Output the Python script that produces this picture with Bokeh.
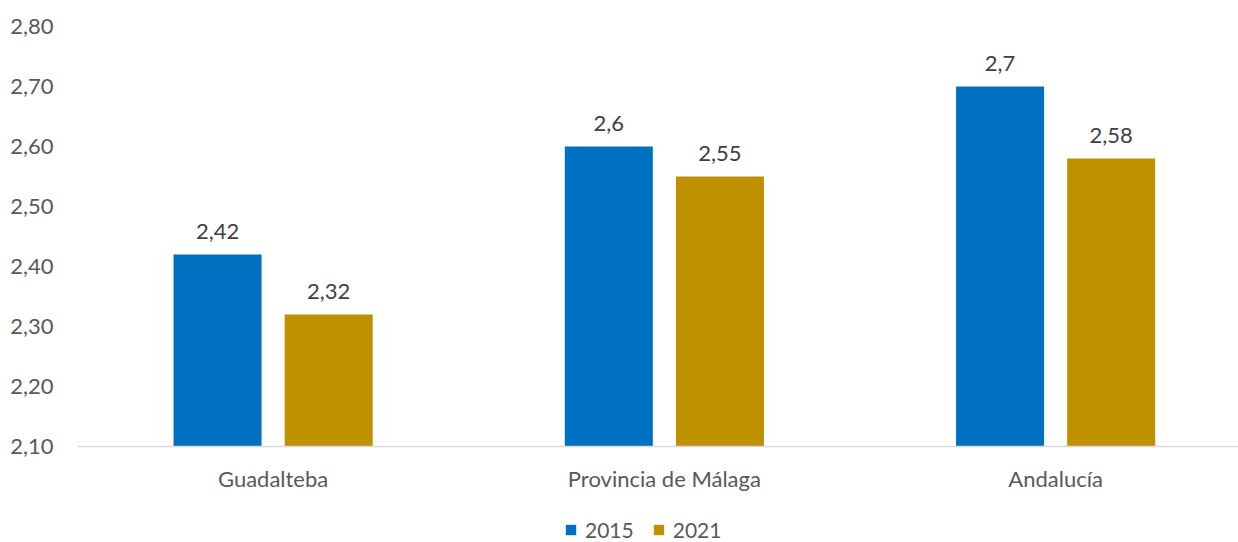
from bokeh.plotting import figure
from bokeh.models import (ColumnDataSource, Legend, LegendItem, FixedTicker,
                          Range1d, CustomJSTickFormatter)
from bokeh.embed import file_html
from bokeh.resources import INLINE
from bokeh.core.properties import value

categories = ["Guadalteba", "Provincia de Málaga", "Andalucía"]
series_names = ["2015", "2021"]
values_2015 = [2.42, 2.6, 2.7]
values_2021 = [2.32, 2.55, 2.58]
y_ticks = [2.1, 2.2, 2.3, 2.4, 2.5, 2.6, 2.7, 2.8]
y_base = 2.1

colors = ["#0070C0", "#BF9000"]
FONT = "Lato"
FS = "22px"

def fmt(v):
    return str(v).replace(".", ",")

x_pos = list(range(len(categories)))
offset = 0.142
bar_w = 0.225

p = figure(width=1238, height=542, output_backend="svg", toolbar_location=None,
           x_range=Range1d(-0.5, 2.4674), y_range=Range1d(1.94, 2.8))
p.min_border_left = 77
p.min_border_right = 0
p.min_border_top = 26
p.min_border_bottom = 0
p.outline_line_color = None
p.background_fill_color = "white"
p.border_fill_color = "white"
p.xgrid.grid_line_color = None
p.ygrid.grid_line_color = None

renderers = []
for name, vals, col, off in [(series_names[0], values_2015, colors[0], -offset),
                             (series_names[1], values_2021, colors[1], offset)]:
    src = ColumnDataSource(dict(x=[x + off for x in x_pos], top=vals,
                                lbl=[fmt(v) for v in vals]))
    r = p.vbar(x="x", top="top", bottom=y_base, width=bar_w, source=src,
               fill_color=col, line_color=None)
    renderers.append(r)
    p.text(x="x", y="top", text="lbl", source=src, text_align="center",
           text_baseline="middle", y_offset=-23, text_font=value(FONT),
           text_font_size=FS, text_color="#404040")

# y axis
p.yaxis.ticker = FixedTicker(ticks=y_ticks)
p.yaxis.formatter = CustomJSTickFormatter(code="return tick.toFixed(2).replace('.', ',');")
p.yaxis.axis_line_color = None
p.yaxis.major_tick_line_color = None
p.yaxis.minor_tick_line_color = None
p.yaxis.major_label_text_font = FONT
p.yaxis.major_label_text_font_size = FS
p.yaxis.major_label_text_color = "#595959"
p.yaxis.major_label_standoff = 18

# x axis (drawn at the 2,10 baseline)
p.xaxis.fixed_location = y_base
p.xaxis.ticker = FixedTicker(ticks=x_pos)
p.xaxis.major_label_overrides = {i: c for i, c in enumerate(categories)}
p.xaxis.axis_line_color = "#D9D9D9"
p.xaxis.axis_line_width = 1.5
p.xaxis.major_tick_line_color = None
p.xaxis.minor_tick_line_color = None
p.xaxis.major_label_text_font = FONT
p.xaxis.major_label_text_font_size = FS
p.xaxis.major_label_text_color = "#595959"
p.xaxis.major_label_standoff = 12

legend = Legend(items=[LegendItem(label=series_names[i], renderers=[renderers[i]])
                       for i in range(2)],
                orientation="horizontal", location=(487, 0),
                glyph_width=13, glyph_height=13, label_height=13,
                label_standoff=8, spacing=18, padding=0, margin=0,
                border_line_color=None, background_fill_alpha=0,
                label_text_font=FONT, label_text_font_size="21px",
                label_text_color="#595959")
p.add_layout(legend, "center")

open("out.html", "w").write(file_html(p, INLINE))
